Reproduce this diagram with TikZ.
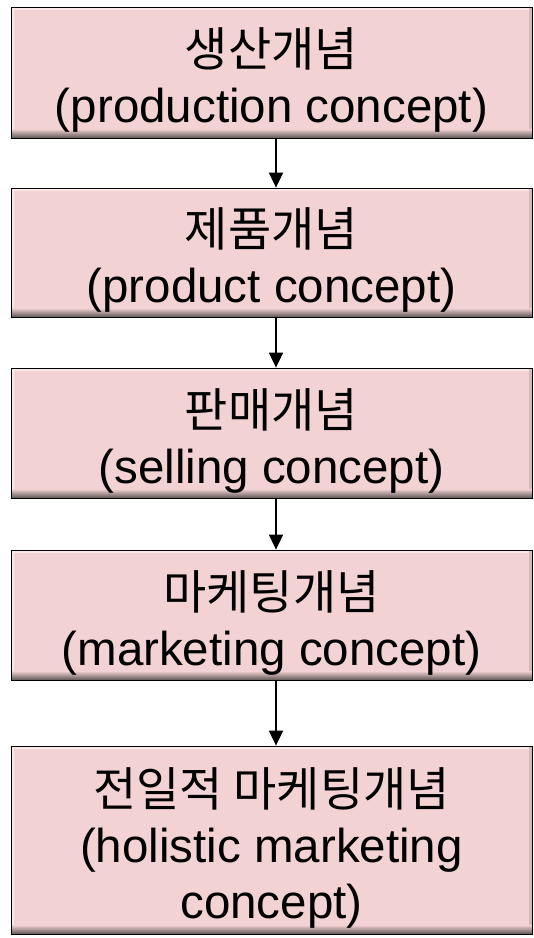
\documentclass[tikz,border=0pt]{standalone}
\usepackage{fontspec}
\setmainfont{Liberation Sans}
\newfontfamily\krfont{Noto Sans CJK KR}[Scale=0.99]
\usetikzlibrary{arrows.meta}
\definecolor{boxpink}{RGB}{242,210,210}
\definecolor{bevdark}{RGB}{95,85,85}
\definecolor{bevlight}{RGB}{250,232,232}
\definecolor{bevside}{RGB}{215,185,185}
% Korean heading line with a tall strut, which sets the text block a little low in its box
\newcommand\krline[1]{\rule{0pt}{54pt}{\krfont #1}}
\tikzset{
  concept/.style={
    draw=black, line width=0.8pt, fill=boxpink,
    minimum width=521pt, inner sep=0pt, align=center,
    font=\fontsize{47.5}{56}\selectfont,
    path picture={
      \fill[bevlight] (path picture bounding box.north west) rectangle ([yshift=-3pt]path picture bounding box.north east);
      \fill[bevlight] (path picture bounding box.north west) rectangle ([xshift=3pt]path picture bounding box.south west);
      \fill[bevside] ([xshift=-3pt]path picture bounding box.north east) rectangle (path picture bounding box.south east);
      \shade[top color=boxpink, bottom color=bevdark] (path picture bounding box.south west) rectangle ([yshift=9pt]path picture bounding box.south east);
    }},
  flow/.style={line width=1.8pt, -{Triangle[length=15pt,width=14pt]}}
}
\begin{document}
\begin{tikzpicture}[x=1pt,y=1pt]
  \useasboundingbox (0,0) rectangle (534,-938);
  \node[concept, minimum height=131pt] (b1) at (271.5,-72.5) {\krline{생산개념}\\(production concept)};
  \node[concept, minimum height=129pt] (b2) at (271.5,-252.5) {\krline{제품개념}\\(product concept)};
  \node[concept, minimum height=130pt] (b3) at (271.5,-433) {\krline{판매개념}\\(selling concept)};
  \node[concept, minimum height=130pt] (b4) at (271.5,-615) {\krline{마케팅개념}\\(marketing concept)};
  \node[concept, minimum height=188pt] (b5) at (271.5,-840) {\krline{전일적 마케팅개념}\\(holistic marketing\\concept)};
  \foreach \a/\b in {b1/b2,b2/b3,b3/b4,b4/b5}
    \draw[flow] ([xshift=4.5pt]\a.south) -- ([xshift=4.5pt]\b.north);
\end{tikzpicture}
\end{document}
